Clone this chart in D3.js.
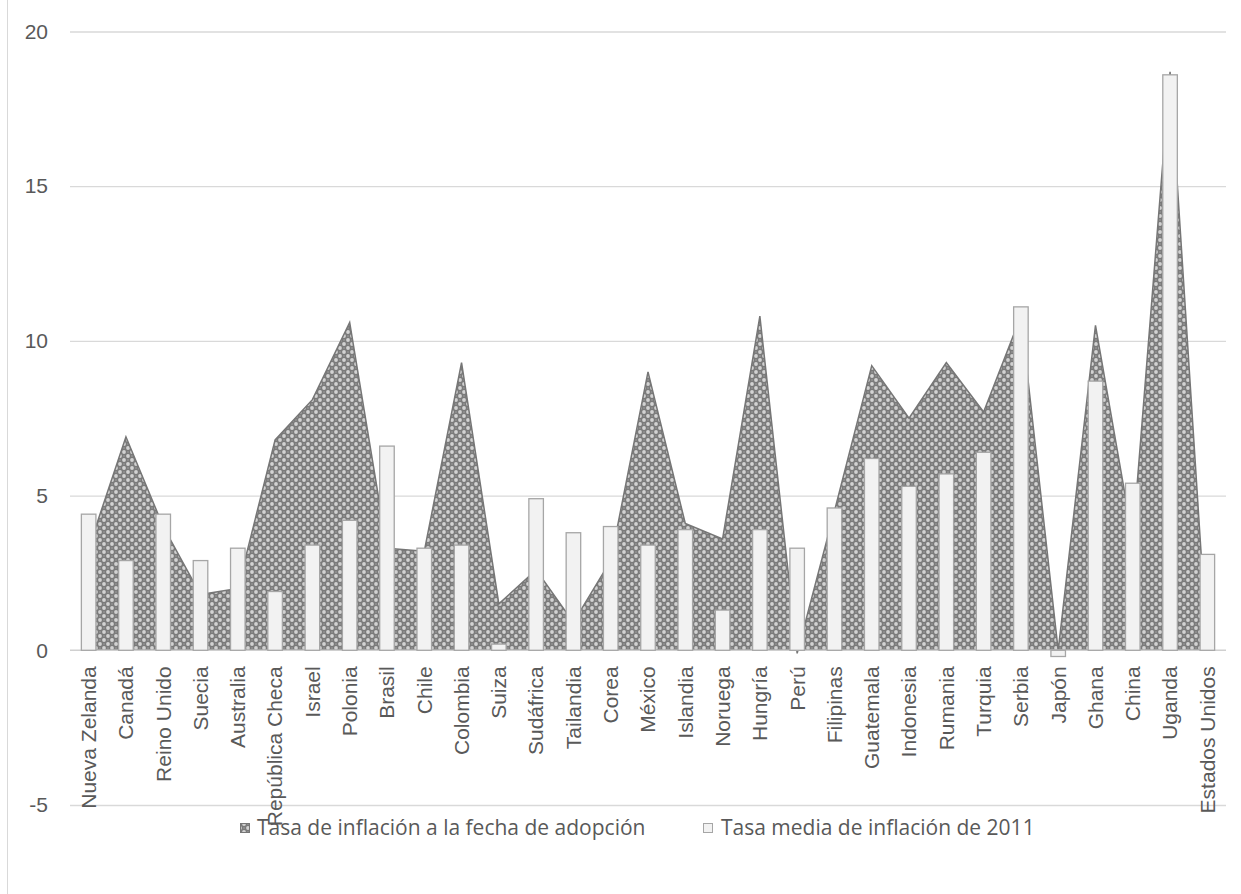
<!DOCTYPE html>
<html lang="es">
<head>
<meta charset="utf-8">
<title>Inflación y adopción de metas</title>
<script src="https://cdn.jsdelivr.net/npm/d3@7"></script>
<style>
body { margin: 0; background: #fff; }
svg { display: block; font-family: "Open Sans", sans-serif; }
.axe text { fill: #595959; font-size: 21px; }
.legende text { fill: #595959; font-size: 21px; }
</style>
</head>
<body>
<svg id="graphique" width="1241" height="894"></svg>
<script>
"use strict";

// données
var pays = ["Nueva Zelanda", "Canadá", "Reino Unido", "Suecia", "Australia", "República Checa",
	"Israel", "Polonia", "Brasil", "Chile", "Colombia", "Suiza", "Sudáfrica", "Tailandia", "Corea",
	"México", "Islandia", "Noruega", "Hungría", "Perú", "Filipinas", "Guatemala", "Indonesia",
	"Rumania", "Turquia", "Serbia", "Japón", "Ghana", "China", "Uganda", "Estados Unidos"];

var tauxAdoption = [3.3, 6.9, 4.0, 1.8, 2.0, 6.8, 8.1, 10.6, 3.3, 3.2, 9.3, 1.5, 2.6, 0.9, 2.9,
	9.0, 4.1, 3.6, 10.8, -0.1, 4.5, 9.2, 7.5, 9.3, 7.7, 10.8, 0, 10.5, 3.6, 18.7, 0];

var taux2011 = [4.4, 2.9, 4.4, 2.9, 3.3, 1.9, 3.4, 4.2, 6.6, 3.3, 3.4, 0.2, 4.9, 3.8, 4.0,
	3.4, 3.9, 1.3, 3.9, 3.3, 4.6, 6.2, 5.3, 5.7, 6.4, 11.1, -0.2, 8.7, 5.4, 18.6, 3.1];

var ticksY = [-5, 0, 5, 10, 15, 20];

var series = ["Tasa de inflación a la fecha de adopción", "Tasa media de inflación de 2011"];


var cadre = { gauche: 70, droite: 1226, haut: 31.5, bas: 805 };

var svg = d3.select("#graphique");

// échelles
var x = d3.scaleBand()
	.domain(pays)
	.range([cadre.gauche, cadre.droite])
	.paddingInner(0.61)
	.paddingOuter(0.305);

var y = d3.scaleLinear()
	.domain([ticksY[0], ticksY[ticksY.length - 1]])
	.range([cadre.bas, cadre.haut]);

var centre = d => x(d) + x.bandwidth() / 2;

// trame de l'aire
var motif = svg.append("defs")
.append("pattern")
.attr("id", "trame")
.attr("patternUnits", "userSpaceOnUse")
.attr("width", 8)
.attr("height", 8);
motif.append("rect")
.attr("width", 8)
.attr("height", 8)
.attr("fill", "#7a7a7a");
motif.selectAll("circle.gros")
.data([[0, 0], [8, 0], [0, 8], [8, 8], [4, 4]])
.enter()
	.append("circle")
	.attr("cx", d => d[0])
	.attr("cy", d => d[1])
	.attr("r", 1.9)
	.attr("fill", "#d2d2d2");
motif.selectAll("circle.petit")
.data([[4, 0], [0, 4], [8, 4], [4, 8]])
.enter()
	.append("circle")
	.attr("cx", d => d[0])
	.attr("cy", d => d[1])
	.attr("r", 0.8)
	.attr("fill", "#a0a0a0");

// bordure du graphique
svg.append("rect")
.attr("x", 7.5)
.attr("y", -10)
.attr("width", 1300)
.attr("height", 1000)
.attr("fill", "none")
.attr("stroke", "#d9d9d9");

// grilles
svg.append("g")
.attr("class", "grille")
.attr("transform", "translate(" + cadre.gauche + ",0)")
.call(d3.axisLeft(y)
	.tickValues(ticksY.filter(v => v !== 0))
	.tickSize(-(cadre.droite - cadre.gauche))
	.tickFormat(""))
.call(g => g.select(".domain").remove())
.selectAll("line")
.attr("stroke", "#d9d9d9")
.attr("stroke-width", 1.3);

// aire : taux à la date d'adoption
var aire = d3.area()
	.x((d, i) => centre(pays[i]))
	.y0(y(0))
	.y1(d => y(d));

svg.append("path")
.datum(tauxAdoption)
.attr("d", aire)
.attr("fill", "url(#trame)")
.attr("stroke", "#767676")
.attr("stroke-width", 1.5)
.attr("stroke-linejoin", "miter");

// axe zéro
svg.append("line")
.attr("x1", cadre.gauche)
.attr("x2", cadre.droite)
.attr("y1", y(0))
.attr("y2", y(0))
.attr("stroke", "#d0d0d0")
.attr("stroke-width", 1.5);

// barres : moyenne 2011
svg.append("g")
.attr("class", "barres")
.selectAll("rect")
.data(taux2011)
.enter()
	.append("rect")
	.attr("x", (d, i) => x(pays[i]))
	.attr("y", d => y(Math.max(0, d)))
	.attr("width", x.bandwidth())
	.attr("height", d => Math.abs(y(d) - y(0)))
	.attr("fill", "#f2f2f2")
	.attr("stroke", "#a6a6a6")
	.attr("stroke-width", 1.3);

// axe Y
svg.append("g")
.attr("class", "axe")
.attr("transform", "translate(" + cadre.gauche + ",0)")
.call(d3.axisLeft(y)
	.tickValues(ticksY)
	.tickSize(0)
	.tickPadding(22)
	.tickFormat(d => String(d)))
.call(g => g.select(".domain").remove());

// axe X, étiquettes verticales
svg.append("g")
.attr("class", "axe")
.attr("transform", "translate(0," + y(0) + ")")
.call(d3.axisBottom(x).tickSize(0))
.call(g => g.select(".domain").remove())
.selectAll("text")
.attr("transform", "rotate(-90)")
.attr("text-anchor", "end")
.attr("x", -16)
.attr("y", 0)
.attr("dy", "0.35em");

// légende
var legende = svg.append("g")
.attr("class", "legende")
.attr("transform", "translate(0,828)");

legende.selectAll("rect")
.data(series)
.enter()
	.append("rect")
	.attr("x", (d, i) => i ? 703.5 : 240.5)
	.attr("y", -4.5)
	.attr("width", 9)
	.attr("height", 9)
	.attr("fill", (d, i) => i ? "#f2f2f2" : "url(#trame)")
	.attr("stroke", (d, i) => i ? "#a6a6a6" : "#767676");

legende.selectAll("text")
.data(series)
.enter()
	.append("text")
	.attr("x", (d, i) => i ? 721 : 257)
	.attr("y", 0)
	.attr("dy", "0.35em")
	.text(d => d);
</script>
</body>
</html>
